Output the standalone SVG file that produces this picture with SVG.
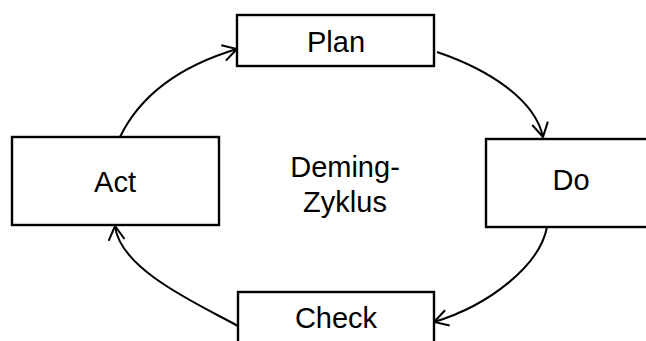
<svg xmlns="http://www.w3.org/2000/svg" width="646" height="341" viewBox="0 0 646 341">
<style>
.box{fill:#fff;stroke:#000;stroke-width:2.4}
.lbl{font-family:"Liberation Sans",Arial,sans-serif;font-size:29px;fill:#000;text-anchor:middle}
.con{fill:none;stroke:#000;stroke-width:2;marker-end:url(#arr)}
</style>
<defs>
<marker id="arr" viewBox="0 0 16 18" refX="15" refY="9" markerWidth="16" markerHeight="18" markerUnits="userSpaceOnUse" orient="auto">
<path d="M1,1 L15,9 L1,17" fill="none" stroke="#000" stroke-width="2"/>
</marker>
</defs>
<rect width="646" height="341" fill="#fff"/>
<g id="connectors">
<path class="con" d="M120,137 Q150,75 237,49"/>
<path class="con" d="M437,52 C490,70 535,100 543,137"/>
<path class="con" d="M547,227 C540,265 490,305 434,322"/>
<path class="con" d="M238,326 C200,305 120,270 115,226"/>
</g>
<g id="plan">
<rect class="box" x="237" y="15" width="197" height="51"/>
<text class="lbl" x="336" y="52">Plan</text>
</g>
<g id="do">
<rect class="box" x="486" y="139" width="180" height="88"/>
<text class="lbl" x="571" y="190">Do</text>
</g>
<g id="check">
<rect class="box" x="238" y="292" width="196" height="70"/>
<text class="lbl" x="336" y="328">Check</text>
</g>
<g id="act">
<rect class="box" x="12" y="137" width="207" height="88"/>
<text class="lbl" x="115" y="192">Act</text>
</g>
<g id="center">
<text class="lbl" x="345" y="177">Deming-</text>
<text class="lbl" x="345" y="212">Zyklus</text>
</g>
</svg>
